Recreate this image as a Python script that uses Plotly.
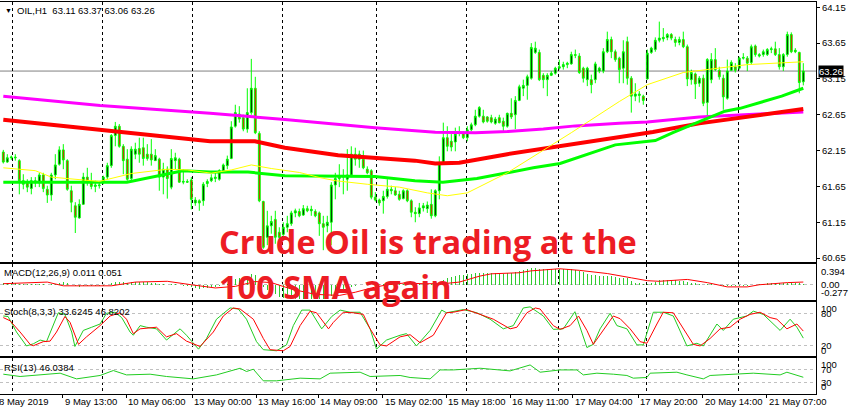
import plotly.graph_objects as go

W, H = 852, 415
PLOT_W = 816

# ---------------- data ----------------
bar_index = list(range(201))
open_ = [62.13,61.99,62.05,62.06,62.01,61.73,61.70,61.62,61.73,61.70,
         61.81,61.61,61.53,61.81,61.96,62.16,62.01,61.59,61.38,61.21,
         61.40,61.78,61.71,61.65,61.66,61.71,61.78,61.94,62.36,62.49,
         62.21,62.03,61.76,62.10,62.18,62.19,62.10,62.10,62.01,62.03,
         61.78,61.89,61.64,62.01,62.03,61.71,61.72,61.74,61.42,61.45,
         61.45,61.69,61.73,61.76,61.75,61.87,61.94,62.04,62.49,62.66,
         62.61,62.45,62.68,63.02,62.39,61.44,60.94,61.10,61.19,61.01,
         60.98,61.08,61.13,61.28,61.30,61.25,61.34,61.31,61.30,61.28,
         61.13,61.10,61.15,61.67,61.76,61.78,61.75,61.81,62.10,62.03,
         62.03,61.89,61.87,61.50,61.46,61.45,61.51,61.61,61.59,61.54,
         61.48,61.59,61.45,61.29,61.27,61.35,61.34,61.40,61.24,61.59,
         61.98,62.33,62.28,62.27,62.39,62.40,62.33,62.44,62.51,62.63,
         62.63,62.62,62.61,62.53,62.61,62.56,62.49,62.67,62.65,62.85,
         63.02,63.06,63.16,63.52,63.52,63.20,63.14,63.20,63.23,63.30,
         63.32,63.35,63.36,63.49,63.47,63.30,63.14,63.14,63.14,63.26,
         63.26,63.53,63.70,63.53,63.44,63.30,63.67,63.16,62.91,62.94,
         62.91,63.15,63.52,63.56,63.69,63.71,63.73,63.77,63.70,63.66,
         63.70,63.60,63.14,63.22,63.09,63.16,62.82,63.14,63.42,63.27,
         63.16,62.88,63.27,63.32,63.30,63.44,63.44,63.38,63.61,63.49,
         63.49,63.49,63.56,63.57,63.49,63.32,63.49,63.77,63.53,63.52,
         63.11]
high = [62.16,62.10,62.08,62.10,62.03,61.82,61.75,61.78,61.78,61.84,
        61.84,61.66,61.84,62.10,62.21,62.24,62.03,61.66,61.43,61.47,
        61.84,61.91,61.84,61.73,61.71,61.80,61.98,62.38,62.55,62.52,
        62.24,62.17,62.21,62.26,62.33,62.33,62.24,62.31,62.17,62.05,
        61.98,61.93,62.17,62.12,62.05,61.89,61.75,61.78,61.50,61.47,
        61.71,61.75,61.82,61.84,61.89,61.97,62.08,62.56,62.79,62.77,
        62.65,63.02,63.43,63.18,62.42,61.45,61.31,61.24,61.31,61.08,
        61.15,61.24,61.31,61.34,61.34,61.39,61.38,61.38,61.33,61.30,
        61.24,61.24,61.71,61.84,61.96,61.89,62.17,62.21,62.19,62.15,
        62.15,61.93,61.89,61.57,61.48,61.59,61.75,61.66,61.64,61.59,
        61.61,61.61,61.47,61.36,61.42,61.42,61.44,61.61,61.61,62.07,
        62.54,62.49,62.38,62.47,62.49,62.42,62.49,62.54,62.72,62.77,
        62.72,62.63,62.65,62.62,62.65,62.61,62.68,62.88,62.91,63.07,
        63.14,63.21,63.65,63.67,63.56,63.23,63.23,63.26,63.32,63.42,
        63.39,63.39,63.53,63.56,63.51,63.32,63.32,63.21,63.39,63.32,
        63.58,63.81,63.74,63.56,63.46,63.69,63.74,63.19,63.09,62.98,
        62.93,63.56,63.60,63.73,63.95,63.86,63.79,63.79,63.74,63.74,
        63.81,63.63,63.28,63.24,63.19,63.21,63.44,63.51,63.58,63.32,
        63.21,63.42,63.41,63.37,63.46,63.51,63.47,63.63,63.63,63.51,
        63.56,63.58,63.60,63.67,63.58,63.51,63.81,63.80,63.58,63.53,
        63.37]
low = [61.97,61.98,62.02,62.01,61.54,61.61,61.57,61.54,61.64,61.64,
       61.57,61.42,61.45,61.75,61.94,61.89,61.59,61.29,61.00,61.20,
       61.40,61.66,61.61,61.57,61.62,61.68,61.75,61.91,62.21,62.19,
       61.82,61.73,61.73,62.03,61.98,61.94,62.01,61.94,62.01,61.59,
       61.54,61.48,61.61,61.89,61.70,61.68,61.70,61.33,61.38,61.31,
       61.38,61.64,61.71,61.71,61.73,61.84,61.89,62.03,62.47,62.54,
       62.42,62.40,62.65,62.38,61.43,60.78,60.83,60.99,60.85,60.76,
       60.96,61.01,61.10,61.22,61.22,61.24,61.29,61.24,61.22,60.96,
       60.76,61.01,60.83,61.47,61.64,61.54,61.59,61.78,61.94,61.91,
       61.89,61.82,61.47,61.44,61.38,61.27,61.48,61.54,61.52,61.45,
       61.47,61.43,61.22,61.15,61.22,61.30,61.28,61.20,61.22,61.47,
       61.96,62.14,62.14,62.14,62.35,62.31,62.28,62.42,62.49,62.61,
       62.53,62.54,62.53,62.51,62.53,62.40,62.47,62.59,62.45,62.84,
       62.91,62.86,63.14,63.50,63.12,63.02,62.91,63.19,63.21,63.28,
       63.28,63.30,63.35,63.44,63.22,63.10,63.05,62.95,63.09,63.23,
       63.23,63.51,63.44,63.39,63.09,63.09,63.07,62.68,62.84,62.82,
       62.79,63.14,63.50,63.53,63.66,63.67,63.69,63.69,63.60,63.62,
       63.58,63.05,63.07,62.87,63.04,62.77,62.63,63.09,63.26,63.14,
       62.72,62.86,63.26,63.24,63.28,63.42,63.26,63.35,63.46,63.45,
       63.46,63.47,63.51,63.47,63.28,63.26,63.46,63.51,63.51,62.95,
       63.06]
close = [61.99,62.05,62.06,62.05,61.73,61.68,61.64,61.73,61.70,61.81,
         61.62,61.53,61.81,61.95,62.16,62.02,61.61,61.43,61.22,61.40,
         61.78,61.71,61.65,61.67,61.67,61.78,61.94,62.36,62.49,62.21,
         62.01,61.75,62.17,62.17,62.10,62.04,62.04,62.02,62.08,61.78,
         61.89,61.76,62.04,62.05,61.71,61.72,61.71,61.47,61.46,61.42,
         61.68,61.72,61.77,61.78,61.87,61.95,62.03,62.48,62.68,62.59,
         62.45,62.68,63.02,62.40,61.45,60.80,61.10,61.16,60.94,60.94,
         61.08,61.13,61.28,61.31,61.24,61.34,61.31,61.33,61.24,61.13,
         61.08,61.15,61.67,61.76,61.78,61.80,61.81,62.10,62.03,62.10,
         61.91,61.84,61.50,61.46,61.42,61.51,61.61,61.59,61.53,61.47,
         61.59,61.45,61.29,61.27,61.35,61.38,61.39,61.24,61.59,61.98,
         62.33,62.21,62.20,62.38,62.41,62.33,62.44,62.51,62.63,62.75,
         62.55,62.56,62.55,62.59,62.54,62.49,62.67,62.62,62.85,63.04,
         63.06,63.18,63.59,63.58,63.14,63.14,63.20,63.23,63.30,63.32,
         63.35,63.37,63.49,63.48,63.24,63.16,63.30,63.07,63.36,63.30,
         63.53,63.70,63.53,63.42,63.28,63.53,63.16,62.91,62.94,62.92,
         62.85,63.51,63.58,63.69,63.72,63.73,63.77,63.72,63.66,63.70,
         63.60,63.15,63.24,63.08,63.16,62.81,63.42,63.42,63.28,63.18,
         62.90,63.26,63.38,63.27,63.44,63.45,63.37,63.60,63.49,63.47,
         63.53,63.56,63.57,63.49,63.32,63.49,63.77,63.53,63.55,63.10,
         63.26]

# moving averages (sampled where read)
ma_magenta_idx = [0, 24.2, 51.7, 70.4, 92.9, 102.9, 108, 118, 126, 135, 143, 154, 161, 174, 184, 192, 200]
ma_magenta_val = [62.91, 62.78, 62.67, 62.585, 62.47, 62.43, 62.405, 62.40, 62.415, 62.45, 62.495, 62.53, 62.55, 62.62, 62.65, 62.675, 62.69]
ma_red_idx = [0, 24.2, 51.7, 62.9, 70.4, 83.7, 102.9, 108, 114, 126, 139.2, 150.9, 162.4, 174, 184.2, 200]
ma_red_val = [62.58, 62.44, 62.28, 62.28, 62.19, 62.085, 62.01, 61.97, 61.98, 62.10, 62.21, 62.32, 62.41, 62.53, 62.61, 62.73]
ma_green_idx = [0, 30.9, 44.9, 51.7, 61.2, 70.4, 92.9, 102.9, 109.9, 118.4, 126, 132.5, 139.2, 146.7, 153, 163, 167.4, 176, 180.4, 184.2, 190.4, 194.6, 200]
ma_green_val = [61.71, 61.71, 61.87, 61.85, 61.85, 61.80, 61.79, 61.73, 61.71, 61.76, 61.84, 61.91, 61.97, 62.11, 62.23, 62.29, 62.40, 62.60, 62.70, 62.74, 62.84, 62.91, 63.02]
ma_yellow_idx = [0, 8, 12, 24, 32, 41, 46, 52, 57, 62, 67, 74, 79, 83, 91, 99, 106, 111, 116, 126, 134, 142, 154, 161, 170, 178, 186, 200]
ma_yellow_val = [61.91, 61.87, 61.78, 61.72, 61.83, 61.89, 61.88, 61.835, 61.88, 61.95, 61.90, 61.845, 61.775, 61.73, 61.68, 61.64, 61.56, 61.52, 61.56, 61.84, 62.12, 62.40, 62.835, 63.07, 63.24, 63.30, 63.35, 63.39]

# MACD(12,26,9): histogram per bar and signal line
macd_hist = [0.04,0.04,0.04,0.03,0.02,0.02,0.01,0.01,0.02,0.02,
             0.01,0.00,0.01,0.02,0.04,0.05,0.03,0.00,-0.03,-0.04,
             -0.03,-0.03,-0.03,-0.03,-0.03,-0.02,0.00,0.03,0.06,0.06,
             0.05,0.04,0.05,0.05,0.05,0.05,0.05,0.04,0.04,0.02,
             0.01,0.00,0.01,0.02,0.00,-0.02,-0.03,-0.05,-0.07,-0.08,
             -0.07,-0.06,-0.05,-0.04,-0.03,-0.01,0.01,0.06,0.11,0.13,
             0.13,0.15,0.20,0.18,0.08,-0.04,-0.10,-0.14,-0.18,-0.22,
             -0.24,-0.25,-0.26,-0.26,-0.26,-0.26,-0.26,-0.26,-0.26,-0.27,
             -0.27,-0.26,-0.21,-0.16,-0.12,-0.09,-0.07,-0.04,-0.02,-0.01,
             0.00,0.00,0.00,0.01,0.01,0.01,0.02,0.02,0.02,0.02,
             0.02,0.02,0.01,0.01,0.02,0.02,0.02,0.02,0.03,0.06,
             0.09,0.12,0.14,0.16,0.18,0.19,0.20,0.21,0.22,0.22,
             0.22,0.22,0.22,0.22,0.21,0.21,0.22,0.22,0.23,0.25,
             0.27,0.29,0.31,0.31,0.30,0.30,0.30,0.30,0.30,0.30,
             0.30,0.29,0.29,0.28,0.26,0.23,0.21,0.18,0.18,0.17,
             0.17,0.17,0.16,0.15,0.13,0.12,0.12,0.07,0.04,0.03,
             0.02,0.02,0.04,0.06,0.08,0.08,0.08,0.08,0.08,0.07,
             0.07,0.05,0.04,0.03,0.02,0.00,0.01,0.02,0.00,-0.01,
             -0.02,-0.02,-0.03,-0.03,-0.03,-0.02,-0.02,-0.01,0.00,0.01,
             0.02,0.03,0.03,0.03,0.03,0.03,0.04,0.04,0.04,0.03,
             0.011]
macd_sig_idx = [0, 11, 15, 27, 33, 41, 47, 53, 58, 63, 67, 72, 78, 84, 88, 92, 96, 100, 105, 110, 114, 119, 122, 129, 132, 139, 144, 151, 157, 161, 164, 171, 176, 181, 186, 189, 196, 200]
macd_sig_val = [0.02, 0.05, -0.02, -0.02, 0.05, 0.065, 0.0, -0.06, -0.03, 0.06, 0.04, -0.08, -0.18, -0.20, -0.14, -0.06, 0.0, 0.03, 0.02, 0.02, 0.05, 0.16, 0.205, 0.225, 0.26, 0.30, 0.27, 0.21, 0.13, 0.076, 0.065, 0.10, 0.04, -0.04, -0.04, 0.0, 0.04, 0.051]

# Stochastic(8,3,3)
stoch_k_idx = [0,1.2,3.3,5.8,7.5,9.2,10.8,12.5,13.75,15.4,17.1,17.9,20,22.1,24.2,25.8,27.9,29.6,31.7,32.5,34.2,35.8,38.3,40.8,44.2,45.8,48.8,50.8,53.3,56.7,58.75,60.8,63.3,65,68.3,70.8,72.5,74.6,76.7,79.6,82.1,84.2,86.7,89.2,91.7,93.3,95.8,99.2,100.8,103.3,
               104.2,106.7,109.6,110.8,115,118.4,121.7,125,127.5,130,131.7,135,137.5,140,142.9,145.9,147.5,149.2,151.7,153.4,155.9,158.4,160,162.5,165,167.5,170.9,173.4,175,178.4,180,182.5,185.9,187.5,190,191.7,194.2,196.7,198.4,200]
stoch_k_val = [75,74,45,19,23,30,27,57,81,78,45,18,48,54,60,80,82,72,45,39,57,54,51,30,51,39,13,33,69,90,88,69,27,12,10,21,57,86,86,51,74,86,82,82,51,13,30,39,42,19,
               27,48,86,81,87,81,69,51,57,90,92,75,50,51,83,16,22,51,80,57,51,21,21,82,82,75,19,24,19,60,48,69,75,84,78,66,48,69,54,33.6]
stoch_d_idx = [0,1.7,4.2,6.7,7.5,10,11.7,13.3,15.4,16.7,18.8,20.8,24.2,26.7,29.2,30.8,32.5,34.2,38.3,40.8,43.3,45.8,49.2,52.5,55,57.5,59.2,62.5,65,66.7,70,71.7,74.2,76.7,78.3,81.3,82.5,85,87.5,90,91.7,94.2,95.8,99.2,101.7,104.2,
               107.5,110.8,112.5,115.8,119.2,122.5,126.7,128.4,130.9,133,134.2,137.5,139.2,141.7,143.8,145.9,147.5,150,152.5,154.2,156.7,159.2,160.9,163.4,165,167.5,170,172.5,174.2,176.7,179.2,181.7,184.2,186.7,189.2,191.7,193.4,195.9,198.4,200]
stoch_d_val = [72,66,45,22,19.4,27,28,45,74,63,22,36,57,75,81,69,42,51,54,36,42,28,18,45,75,90,88,69,33,12,10,18,57,84,81,51,63,82,81,78,51,21,19,36,40,25,
               39,81,82,87,78,69,51,54,81,90,88,57,50,57,75,48,22,48,75,70,51,27,24,60,82,81,51,22,19,33,51,54,69,78,82,72,69,51,60,46.8]

# RSI(13)
rsi_idx = [0,4.2,14.2,18.3,24.2,27.5,30.8,36.7,40.8,47.5,53.3,59.2,60.8,62.5,65,68.3,74.2,79.2,81.7,89.2,91.7,99.2,101.7,104.2,106.7,109.2,112.5,119.2,126.7,131.7,134.2,139.2,143.4,145,148.4,152.5,155.9,157.5,160.9,161.7,168.4,170.9,175,176.7,184.2,187.5,194.2,195.9,200]
rsi_val = [56,48.5,59.3,40.7,51.8,68,53.7,56,48.5,40.7,53.7,75.5,64.8,72.3,34.3,34.3,43,40.7,59.3,62.5,48.5,51.8,45.2,43,40.7,70,70,75.5,66.8,86.3,62.5,70,70,53.7,59.3,56,51.8,43,45.2,59.3,62.5,53.7,40.7,51.8,56,59.3,53.7,62.5,46.0]

# axes / labels
price_ticks = [64.15, 63.65, 63.15, 62.65, 62.15, 61.65, 61.15, 60.65]
last_price = 63.26
time_labels = ["8 May 2019", "9 May 13:00", "10 May 06:00", "13 May 00:00", "13 May 16:00",
               "14 May 09:00", "15 May 02:00", "15 May 18:00", "16 May 11:00", "17 May 04:00",
               "17 May 20:00", "20 May 14:00", "21 May 07:00"]
time_label_pos = [-1.6, 14.8, 30.7, 47.2, 63.2, 78.7, 94.9, 110.7, 126.7, 142.4, 158.7, 174.9, 190.9]
day_grid = [2.2, 24.9, 47.2, 69.9, 93.2, 115.9, 138.9, 160.9, 183.9]
macd_labels = [(0.394, "0.394", -8), (0.0, "0.00", 0), (-0.277, "-0.277", 7)]
stoch_labels = [(100, "100", -6), (80, "80", 0), (20, "20", 0), (0, "0", 6)]
rsi_labels = [(100, "100", -4), (70, "70", 0), (30, "30", 0), (0, "0", 5)]

# ---------------- layout geometry ----------------
X_RANGE = [-0.825, 203.175]
def pdom(top_px, bot_px):
    return [1 - bot_px / H, 1 - top_px / H]

FONT = "Liberation Sans, Arial, sans-serif"
GRN = "#00ff00"

fig = go.Figure()

# main panel
fig.add_trace(go.Scatter(x=ma_magenta_idx, y=ma_magenta_val, mode="lines",
                         line=dict(color="#ff00ff", width=3), xaxis="x", yaxis="y"))
fig.add_trace(go.Scatter(x=ma_red_idx, y=ma_red_val, mode="lines",
                         line=dict(color="#ff0000", width=4), xaxis="x", yaxis="y"))
fig.add_trace(go.Scatter(x=ma_green_idx, y=ma_green_val, mode="lines",
                         line=dict(color=GRN, width=3), xaxis="x", yaxis="y"))
fig.add_trace(go.Scatter(x=ma_yellow_idx, y=ma_yellow_val, mode="lines",
                         line=dict(color="#ffff00", width=1), xaxis="x", yaxis="y"))
fig.add_trace(go.Candlestick(x=bar_index, open=open_, high=high, low=low, close=close,
                             increasing=dict(line=dict(color=GRN, width=1), fillcolor="black"),
                             decreasing=dict(line=dict(color=GRN, width=1), fillcolor="#ff0000"),
                             whiskerwidth=0, xaxis="x", yaxis="y"))

# MACD
fig.add_trace(go.Bar(x=bar_index, y=macd_hist, width=0.25, marker=dict(color="#2ecc2e", line=dict(width=0)),
                     xaxis="x2", yaxis="y2"))
fig.add_trace(go.Scatter(x=macd_sig_idx, y=macd_sig_val, mode="lines",
                         line=dict(color="#ff0000", width=1), xaxis="x2", yaxis="y2"))
# Stoch
fig.add_trace(go.Scatter(x=stoch_k_idx, y=stoch_k_val, mode="lines",
                         line=dict(color="#22cc22", width=1), xaxis="x3", yaxis="y3"))
fig.add_trace(go.Scatter(x=stoch_d_idx, y=stoch_d_val, mode="lines",
                         line=dict(color="#ff0000", width=1), xaxis="x3", yaxis="y3"))
# RSI
fig.add_trace(go.Scatter(x=rsi_idx, y=rsi_val, mode="lines",
                         line=dict(color="#22cc22", width=1), xaxis="x4", yaxis="y4"))

xcommon = dict(range=X_RANGE, showticklabels=False, ticks="", tickmode="array", tickvals=day_grid,
               showgrid=True, gridcolor="black", griddash="3px,3px", gridwidth=1,
               showline=True, mirror=True, linecolor="black", linewidth=1, zeroline=False,
               rangeslider=dict(visible=False), fixedrange=True)
ycommon = dict(showline=True, mirror=False, linecolor="black", linewidth=1, side="right",
               zeroline=False, fixedrange=True)

fig.update_layout(
    width=W, height=H, margin=dict(l=0, r=W - PLOT_W, t=0, b=0),
    paper_bgcolor="white", plot_bgcolor="white", showlegend=False, bargap=0,
    boxgap=0.35, hovermode=False,
    xaxis=dict(xcommon, anchor="y"),
    xaxis2=dict(xcommon, anchor="y2", matches="x"),
    xaxis3=dict(xcommon, anchor="y3", matches="x"),
    xaxis4=dict(xcommon, anchor="y4", matches="x",
                minor=dict(tickvals=time_label_pos[1:], ticks="outside", ticklen=3,
                           tickcolor="black", showgrid=False)),
    yaxis=dict(ycommon, domain=pdom(2, 263), range=[60.599, 64.224], tickmode="array",
               tickvals=price_ticks, ticktext=[f"{v:.2f}" for v in price_ticks],
               ticks="outside", ticklen=3, tickcolor="black",
               tickfont=dict(family=FONT, size=9.5, color="black"), showgrid=False),
    yaxis2=dict(ycommon, domain=pdom(265, 301), range=[-0.277, 0.394], tickmode="array",
                tickvals=[0], showticklabels=False, ticks="", showgrid=True,
                gridcolor="#c0c0c0", griddash="3px,3px"),
    yaxis3=dict(ycommon, domain=pdom(303, 358), range=[-0.3, 102.0], tickmode="array",
                tickvals=[20, 80], showticklabels=False, ticks="", showgrid=True,
                gridcolor="#c0c0c0", griddash="3px,3px"),
    yaxis4=dict(ycommon, domain=pdom(359.5, 395.5), range=[-7.5, 109.8], tickmode="array",
                tickvals=[30, 70], showticklabels=False, ticks="", showgrid=True,
                gridcolor="#c0c0c0", griddash="3px,3px"),
)

# last price line and box
fig.add_shape(type="line", xref="x domain", yref="y", x0=0, x1=1, y0=last_price, y1=last_price,
              line=dict(color="#808080", width=1), layer="below")
ann = []
ann.append(dict(xref="paper", yref="y", x=1, y=last_price, xanchor="left", yanchor="middle",
                xshift=2, text=f"{last_price:.2f}", showarrow=False, bgcolor="black",
                borderpad=0, font=dict(family=FONT, size=9.5, color="white")))

# sub-window scale labels
for yref, labels in (("y2", macd_labels), ("y3", stoch_labels), ("y4", rsi_labels)):
    for val, txt, shift in labels:
        ann.append(dict(xref="paper", yref=yref, x=1, y=val, xanchor="left", yanchor="middle",
                        xshift=3, yshift=shift, text=txt, showarrow=False,
                        font=dict(family=FONT, size=9.5, color="black")))

# time labels (left-aligned at their bar)
for pos, txt in zip(time_label_pos, time_labels):
    xs = 0
    xp = pos
    if pos < X_RANGE[0]:
        xs = (pos - X_RANGE[0]) * PLOT_W / (X_RANGE[1] - X_RANGE[0])
        xp = X_RANGE[0]
    ann.append(dict(xref="x4", yref="paper", x=xp, y=1 - 403.5 / H, xanchor="left", yanchor="middle",
                    xshift=xs, text=txt, showarrow=False,
                    font=dict(family=FONT, size=9.5, color="black")))

# window titles
ann.append(dict(xref="paper", yref="paper", x=3 / PLOT_W, y=1 - 11 / H, xanchor="left", yanchor="middle",
                text="▼", showarrow=False, font=dict(family=FONT, size=7, color="black")))
ann.append(dict(xref="paper", yref="paper", x=15 / PLOT_W, y=1 - 11 / H, xanchor="left", yanchor="middle",
                text="OIL,H1  63.11 63.37 63.06 63.26", showarrow=False,
                font=dict(family=FONT, size=9.5, color="black")))
ann.append(dict(xref="paper", yref="paper", x=2 / PLOT_W, y=1 - 274 / H, xanchor="left", yanchor="middle",
                text="MACD(12,26,9) 0.011 0.051", showarrow=False,
                font=dict(family=FONT, size=9.5, color="black")))
ann.append(dict(xref="paper", yref="paper", x=2 / PLOT_W, y=1 - 313 / H, xanchor="left", yanchor="middle",
                text="Stoch(8,3,3) 33.6245 46.8202", showarrow=False,
                font=dict(family=FONT, size=9.5, color="black")))
ann.append(dict(xref="paper", yref="paper", x=2 / PLOT_W, y=1 - 369 / H, xanchor="left", yanchor="middle",
                text="RSI(13) 46.0384", showarrow=False,
                font=dict(family=FONT, size=9.5, color="black")))

# headline overlay
for txt, ypx in (("Crude Oil is trading at the", 243), ("100 SMA again", 288)):
    ann.append(dict(xref="paper", yref="paper", x=217 / PLOT_W, y=1 - ypx / H, xanchor="left",
                    yanchor="middle", text=txt, showarrow=False,
                    font=dict(family="Open Sans", size=32.5, color="#ed1c24", weight="bold")))

fig.update_layout(annotations=ann)
fig.write_html("out.html", config={"displayModeBar": False, "staticPlot": True},
               post_script="document.body.style.margin='0';document.body.style.overflow='hidden';")
